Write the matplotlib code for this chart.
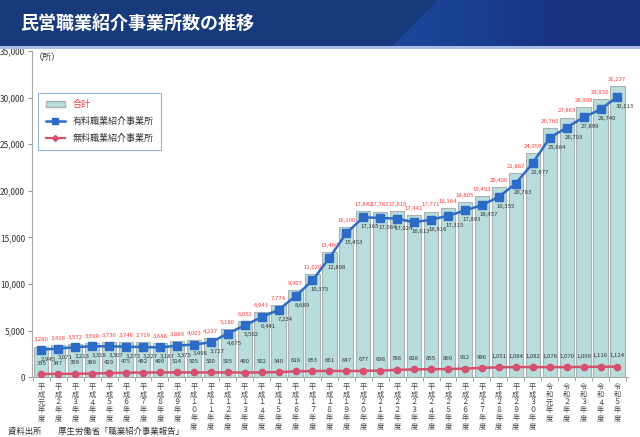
import matplotlib
matplotlib.use("Agg")
import matplotlib.pyplot as plt
import numpy as np
from matplotlib.patches import Polygon, Rectangle
from matplotlib.lines import Line2D
from matplotlib.colors import LinearSegmentedColormap

plt.rcParams['font.family'] = ['Noto Sans CJK JP', 'DejaVu Sans']

# Data
zen = str.maketrans("0123456789", "０１２３４５６７８９")
years = ["平\n成\n元\n年\n度"] + ["平\n成\n" + "\n".join(str(i).translate(zen)) + "\n年\n度" for i in range(2, 31)] \
    + ["令\n和\n元\n年\n度"] + ["令\n和\n" + str(i).translate(zen) + "\n年\n度" for i in range(2, 6)]

total = [3280, 3418, 3572, 3698, 3736, 3748, 3719, 3686, 3889, 4003,
         4227, 5180, 6052, 6943, 7774, 9307, 11028, 13469, 16100, 17842,
         17782, 17810, 17441, 17771, 18184, 18805, 19453, 20406, 21867, 24059,
         26760, 27863, 28998, 29856, 31237]
paid = [2945, 3071, 3213, 3318, 3307, 3273, 3227, 3187, 3375, 3498,
        3727, 4675, 5562, 6441, 7234, 8689, 10375, 12808, 15453, 17165,
        17084, 17024, 16613, 16916, 17315, 17893, 18457, 19355, 20783, 22977,
        25684, 26793, 27899, 28740, 30113]
free = [335, 347, 359, 380, 429, 475, 492, 499, 514, 505,
        500, 505, 490, 502, 540, 618, 653, 661, 647, 677,
        698, 786, 828, 855, 869, 912, 996, 1051, 1084, 1082,
        1076, 1070, 1099, 1116, 1124]

x = np.arange(len(total))

fig = plt.figure(figsize=(6.4, 4.37), dpi=100)

# Header bar
hax = fig.add_axes([0, 0.894, 1, 0.106])
hax.set_xlim(0, 640)
hax.set_ylim(0, 46)
hax.axis("off")
hax.add_patch(Rectangle((0, 0), 640, 46, facecolor="#163a7c", edgecolor="none"))
cmap = LinearSegmentedColormap.from_list("hdr", ["#1d469c", "#1a3f90", "#16337f", "#16337f"])
grad = np.linspace(0, 1, 256).reshape(1, -1)
img = hax.imshow(grad, extent=(392, 640, 0, 46), aspect="auto", cmap=cmap, zorder=1)
img.set_clip_path(Polygon([(392, 0), (438, 46), (640, 46), (640, 0)], closed=True,
                          transform=hax.transData))
hax.text(20, 23, "民営職業紹介事業所数の推移", color="white", fontsize=13,
         fontweight="bold", va="center", ha="left", zorder=3)
fig.patches.append(Rectangle((0, 0.889), 1, 0.006, transform=fig.transFigure,
                             facecolor="#a9bde6", edgecolor="none", zorder=0))

ax = fig.add_axes([0.05, 0.137, 0.932, 0.746])

ax.bar(x, total, width=0.84, color="#b9dcdc", edgecolor="#a8b4b4", linewidth=0.8,
       zorder=2, label="合計")
ax.plot(x, paid, color="#2e6bc6", marker="s", markersize=5.5, linewidth=1.8,
        zorder=4, label="有料職業紹介事業所")
ax.plot(x, free, color="#d5506f", marker="o", markersize=4.5, linewidth=1.8,
        zorder=4, label="無料職業紹介事業所")

for i in x:
    ax.annotate(f"{total[i]:,}", (i, total[i]), xytext=(0, 3), textcoords="offset points",
                ha="center", va="bottom", fontsize=4.3, color="#ff3b3b", zorder=5)
    ax.annotate(f"{paid[i]:,}", (i, paid[i]), xytext=(5, -5), textcoords="offset points",
                ha="center", va="top", fontsize=4.3, color="#333333", zorder=5)
    ax.annotate(f"{free[i]:,}", (i, free[i]), xytext=(0, 6), textcoords="offset points",
                ha="center", va="bottom", fontsize=4.3, color="#333333", zorder=5)

ax.set_ylim(0, 35000)
ax.set_xlim(-0.55, len(total) - 0.35)
ax.set_yticks(np.arange(0, 35001, 5000))
ax.set_yticklabels([f"{v:,}" for v in range(0, 35001, 5000)], fontsize=6, color="#333333")
ax.set_xticks(x)
ax.set_xticklabels(years, fontsize=5.2, color="#444444", linespacing=0.98, va="top")
ax.tick_params(axis="x", which="major", length=0, pad=4)
ax.set_xticks(np.arange(-0.5, len(total), 1), minor=True)
ax.tick_params(axis="x", which="minor", length=3, color="#999999")
ax.tick_params(axis="y", length=3, color="#999999", pad=2)

for s in ["top", "right"]:
    ax.spines[s].set_visible(False)
ax.spines["left"].set_color("#aaaaaa")
ax.spines["bottom"].set_color("#aaaaaa")

ax.text(0.003, 0.982, "（所）", transform=ax.transAxes, fontsize=6.5, color="#333333",
        ha="left", va="center")

handles = [Rectangle((0, 0), 1, 1, facecolor="#b9dcdc", edgecolor="#a8b4b4"),
           Line2D([], [], color="#2e6bc6", marker="s", markersize=4, linewidth=1.8),
           Line2D([], [], color="#d5506f", marker="D", markersize=3, linewidth=1.6)]
leg = ax.legend(handles, ["合計", "有料職業紹介事業所", "無料職業紹介事業所"],
                loc="upper left", bbox_to_anchor=(0.003, 0.885), fontsize=6.5,
                frameon=True, fancybox=False, edgecolor="#7aa0d8",
                borderpad=0.8, labelspacing=0.85, handlelength=2.2)
leg.get_frame().set_linewidth(0.8)
leg.get_texts()[0].set_color("#ff3b3b")
for t in leg.get_texts()[1:]:
    t.set_color("#333333")

fig.text(0.012, 0.013, "資料出所　　厚生労働省「職業紹介事業報告」", fontsize=6,
         color="#333333", ha="left", va="center")

fig.savefig("out.png", dpi=100)
